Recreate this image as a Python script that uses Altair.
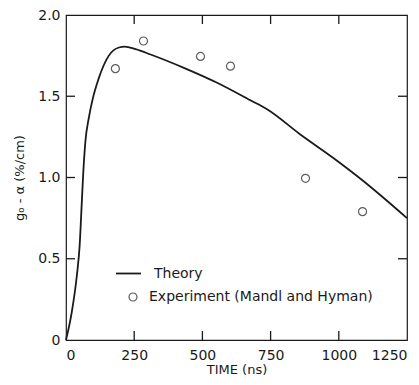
import altair as alt
import pandas as pd

# ---- data ----
theory_t = [0, 21, 40, 50, 58, 63, 71, 84, 96, 120, 157, 194, 215, 255, 310,
            432, 554, 676, 737, 859, 980, 1091, 1250]
theory_g = [0, 0.17, 0.40, 0.58, 0.85, 1.02, 1.22, 1.37, 1.47, 1.61, 1.75, 1.80,
            1.805, 1.79, 1.757, 1.675, 1.583, 1.475, 1.42, 1.265, 1.12, 0.977, 0.75]
exp_t = [181, 284, 493, 603, 878, 1087]
exp_g = [1.67, 1.84, 1.745, 1.685, 0.995, 0.79]

x_labels = [0, 250, 500, 750, 1000, 1250]
y_labels = [0, 0.5, 1.0, 1.5, 2.0]
x_inner = [250, 500, 750, 1000]
y_inner = [0.5, 1.0, 1.5]

theory_name = "Theory"
exp_name = "Experiment (Mandl and Hyman)"

X_MAX, Y_MAX = 1250, 2.0
W, H = 341, 325
TICK_PX = 9
ink = "#1a1a1a"
font = "DejaVu Sans"

theory_df = pd.DataFrame({"t": theory_t, "g": theory_g, "series": theory_name})
exp_df = pd.DataFrame({"t": exp_t, "g": exp_g, "series": exp_name})

# inward frame ticks, their length converted from pixels to data units
dt = TICK_PX * X_MAX / W
dg = TICK_PX * Y_MAX / H
tick_rows = []
for t in x_inner:
    tick_rows.append({"t": t, "t2": t, "g": 0.0, "g2": dg})
    tick_rows.append({"t": t, "t2": t, "g": Y_MAX, "g2": Y_MAX - dg})
for g in y_inner:
    tick_rows.append({"t": 0.0, "t2": dt, "g": g, "g2": g})
    tick_rows.append({"t": X_MAX, "t2": X_MAX - dt, "g": g, "g2": g})
tick_df = pd.DataFrame(tick_rows)

xs = alt.Scale(domain=[0, X_MAX], nice=False, zero=False)
ys = alt.Scale(domain=[0, Y_MAX], nice=False, zero=False)

x_enc = alt.X("t:Q", scale=xs, axis=alt.Axis(
    orient="bottom", values=x_labels, ticks=False, domain=False, grid=False,
    format="d", labelPadding=8, title="TIME (ns)", titlePadding=1))
y_enc = alt.Y("g:Q", scale=ys, axis=alt.Axis(
    orient="left", values=y_labels, ticks=False, domain=False, grid=False,
    labelPadding=6, title="g₀ - α (%/cm)", titlePadding=11,
    labelExpr="datum.value == 0 ? '0' : format(datum.value, '.1f')"))

line = alt.Chart(theory_df).mark_line(strokeWidth=1.8, interpolate="monotone").encode(
    x=x_enc, y=y_enc,
    color=alt.Color("series:N", scale=alt.Scale(domain=[theory_name], range=[ink]),
                    legend=alt.Legend(orient="none", legendX=49, legendY=245, title=None,
                                      symbolType="stroke", symbolSize=625,
                                      symbolStrokeWidth=1.8, labelOffset=12)),
)

ticks = alt.Chart(tick_df).mark_rule(color=ink, strokeWidth=1.3).encode(
    x="t:Q", x2="t2:Q", y="g:Q", y2="g2:Q"
)

points = alt.Chart(exp_df).mark_point(filled=False, size=64, strokeWidth=1.2, color=ink).encode(
    x="t:Q", y="g:Q",
    shape=alt.Shape("series:N", scale=alt.Scale(domain=[exp_name], range=["circle"]),
                    legend=alt.Legend(orient="none", legendX=60, legendY=275, title=None,
                                      symbolSize=64, symbolStrokeWidth=1.2,
                                      symbolStrokeColor=ink, symbolFillColor="transparent",
                                      labelOffset=9, labelLimit=0)),
)

chart = alt.layer(line, ticks, points).properties(
    width=W, height=H,
    autosize=alt.AutoSizeParams(type="none"),
    padding={"left": 66, "top": 15, "right": 12, "bottom": 45},
    background="white",
).configure_view(
    stroke=ink, strokeWidth=1.2
).configure_axis(
    labelFont=font, labelFontSize=14, labelColor=ink,
    titleFont=font, titleFontSize=13, titleFontWeight="normal", titleColor=ink,
).configure_legend(
    labelFont=font, labelFontSize=14, labelColor=ink, labelLimit=0,
)

chart.save("out.html", embed_options={"renderer": "svg", "actions": False})
